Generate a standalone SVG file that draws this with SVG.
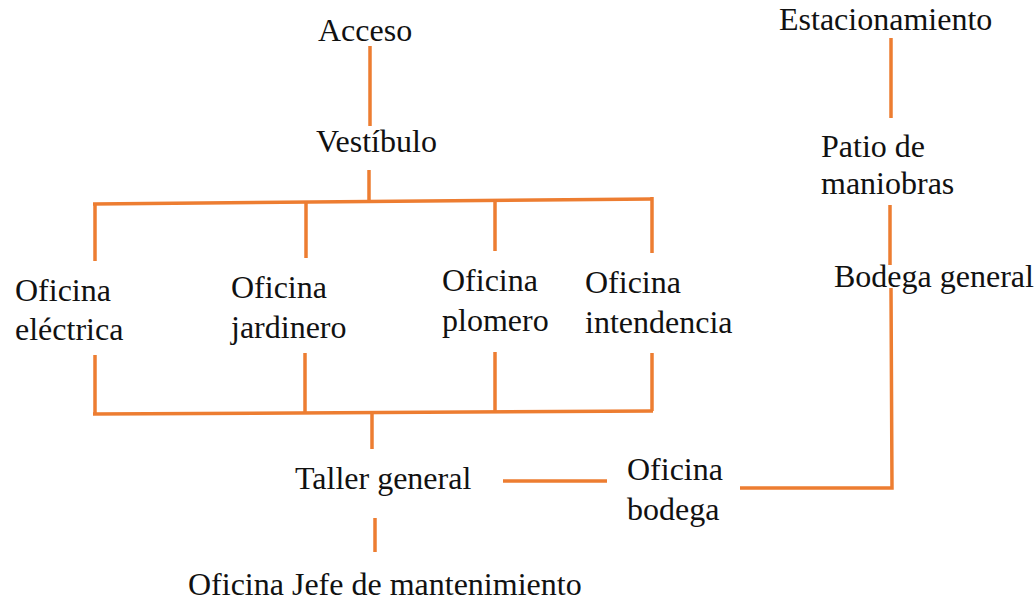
<svg xmlns="http://www.w3.org/2000/svg" width="1036" height="606" viewBox="0 0 1036 606">
<style>
text{font-family:"Liberation Serif","Times New Roman",serif;font-size:32px;fill:#111}
.c line,.c polyline{stroke:#ED7D31;stroke-width:3.5;fill:none}
</style>
<rect width="1036" height="606" fill="#fff"/>
<g class="c" id="connectors">
<line x1="370" y1="46" x2="370" y2="126"/>
<line x1="369" y1="170" x2="369" y2="203"/>
<line x1="93" y1="204" x2="653" y2="199"/>
<line x1="95" y1="203" x2="95" y2="261"/>
<line x1="306" y1="201" x2="306" y2="258"/>
<line x1="495" y1="199" x2="495" y2="251"/>
<line x1="652" y1="197" x2="652" y2="253"/>
<line x1="95" y1="355" x2="95" y2="415"/>
<line x1="305" y1="353" x2="305" y2="413"/>
<line x1="495" y1="352" x2="495" y2="412"/>
<line x1="652" y1="353" x2="652" y2="411"/>
<line x1="93" y1="414" x2="653" y2="411"/>
<line x1="372" y1="413" x2="372" y2="449"/>
<line x1="375" y1="518" x2="375" y2="552"/>
<line x1="503" y1="481" x2="607" y2="481"/>
<polyline points="740,488 892,488 891,288"/>
<line x1="890" y1="205" x2="890" y2="265"/>
<line x1="891" y1="38" x2="891" y2="118"/>
</g>
<g id="acceso"><text x="318" y="41">Acceso</text></g>
<g id="vestibulo"><text x="316" y="152">Vestíbulo</text></g>
<g id="estacionamiento"><text x="779" y="30">Estacionamiento</text></g>
<g id="patio"><text x="821" y="157">Patio de</text><text x="821" y="194">maniobras</text></g>
<g id="bodega-general"><text x="834" y="287">Bodega general</text></g>
<g id="of-electrica"><text x="15" y="301">Oficina</text><text x="15" y="340">eléctrica</text></g>
<g id="of-jardinero"><text x="231" y="298">Oficina</text><text x="231" y="338">jardinero</text></g>
<g id="of-plomero"><text x="442" y="291">Oficina</text><text x="442" y="331">plomero</text></g>
<g id="of-intendencia"><text x="585" y="293">Oficina</text><text x="585" y="333">intendencia</text></g>
<g id="taller"><text x="295" y="489">Taller general</text></g>
<g id="of-bodega"><text x="627" y="480">Oficina</text><text x="627" y="520">bodega</text></g>
<g id="of-jefe"><text x="188" y="595">Oficina Jefe de mantenimiento</text></g>
</svg>
